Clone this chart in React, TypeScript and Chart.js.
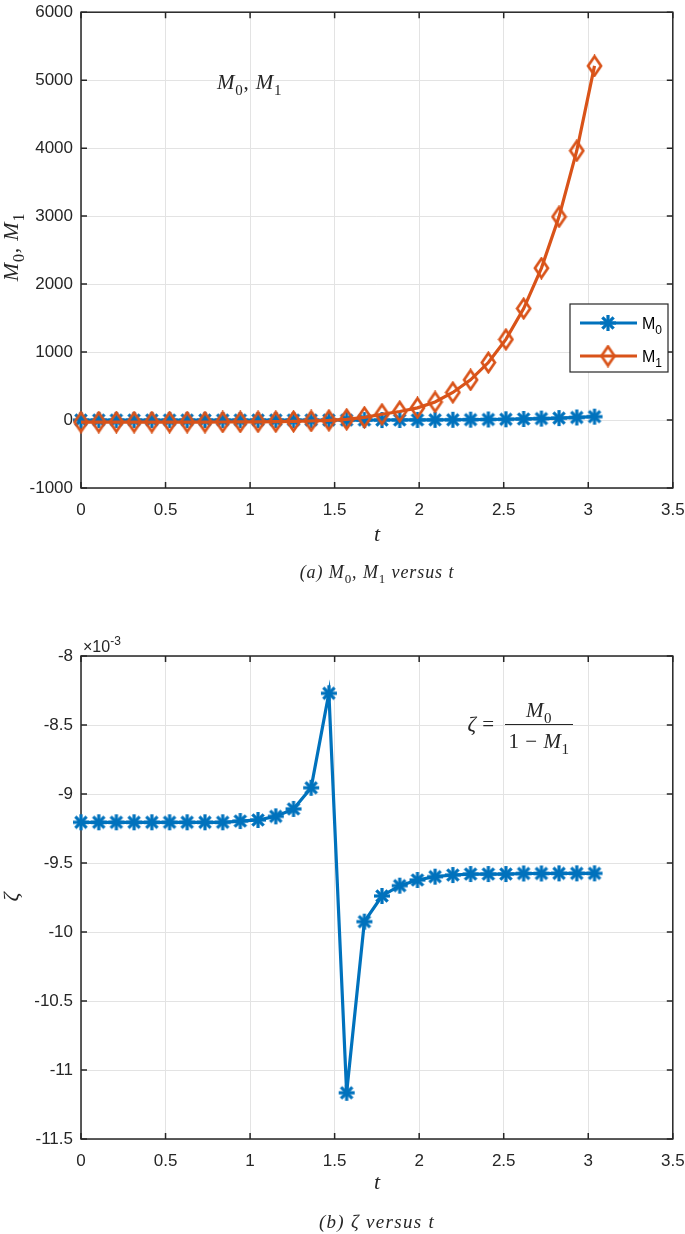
import { useEffect, useRef } from 'react';
import { Chart, registerables } from 'chart.js';
Chart.register(...registerables);

// ---------- data ----------
const T = [0, 0.105, 0.209, 0.314, 0.419, 0.524, 0.628, 0.733, 0.838, 0.942, 1.047, 1.152, 1.257, 1.361, 1.466, 1.571, 1.676, 1.78, 1.885, 1.99, 2.094, 2.199, 2.304, 2.409, 2.513, 2.618, 2.723, 2.827, 2.932, 3.037];
const M0 = [-0.3, -0.3, -0.3, -0.3, -0.3, -0.3, -0.3, -0.3, -0.3, -0.3, -0.3, -0.2, -0.1, 0.1, 0.2, 0.0, -0.2, 0.3, 1.2, 1.7, 2.5, 3.9, 5.7, 8.1, 11.4, 15.7, 21.4, 28.6, 38, 50];
const M1 = [-30, -30, -30, -30, -30, -30, -30, -30, -29, -28, -26, -24, -20, -14, -5, 10, 40, 85, 125, 179, 266, 406, 591, 846, 1186, 1640, 2235, 2990, 3962, 5210];
// zeta values in units of 1e-3
const ZETA = [-9.205, -9.205, -9.205, -9.205, -9.205, -9.205, -9.205, -9.205, -9.205, -9.196, -9.188, -9.162, -9.108, -8.955, -8.27, -11.165, -9.925, -9.739, -9.664, -9.623, -9.599, -9.587, -9.58, -9.58, -9.58, -9.576, -9.576, -9.575, -9.575, -9.575];
const X_TICKS = [0, 0.5, 1, 1.5, 2, 2.5, 3, 3.5];
const Y1_TICKS = [-1000, 0, 1000, 2000, 3000, 4000, 5000, 6000];
const Y2_TICKS = [-11.5, -11, -10.5, -10, -9.5, -9, -8.5, -8];

// ---------- styles ----------
const BLUE = '#0072BD';
const ORANGE = '#D95319';
const INK = '#262626';
const GRID = '#e3e3e3';
const SANS = '"Liberation Sans", Arial, Helvetica, sans-serif';
const SERIF = '"Liberation Serif", "Times New Roman", serif';

function makeAsterisk(): HTMLCanvasElement {
  const c = document.createElement('canvas');
  c.width = 18; c.height = 18;
  const g = c.getContext('2d')!;
  g.strokeStyle = BLUE; g.lineWidth = 3.2; g.lineCap = 'butt';
  const cx = 9, cy = 9, r = 8;
  for (let k = 0; k < 4; k++) {
    const a = (k * Math.PI) / 4;
    g.beginPath();
    g.moveTo(cx - r * Math.cos(a), cy - r * Math.sin(a));
    g.lineTo(cx + r * Math.cos(a), cy + r * Math.sin(a));
    g.stroke();
  }
  return c;
}
function makeDiamond(): HTMLCanvasElement {
  const c = document.createElement('canvas');
  c.width = 17; c.height = 23;
  const g = c.getContext('2d')!;
  g.strokeStyle = ORANGE; g.lineWidth = 2.7; g.lineJoin = 'miter';
  g.beginPath();
  g.moveTo(8.5, 2); g.lineTo(15, 11.5); g.lineTo(8.5, 21); g.lineTo(2, 11.5); g.closePath();
  g.stroke();
  return c;
}

type Kind = 'i' | 'r' | 'sub' | 's' | 'ssub' | 'sup';
type Seg = [string, Kind];
function fontFor(k: Kind, size: number) {
  switch (k) {
    case 'i': return `italic ${size}px ${SERIF}`;
    case 'r': return `${size}px ${SERIF}`;
    case 'sub': return `${Math.round(size * 0.72)}px ${SERIF}`;
    case 's': return `${size}px ${SANS}`;
    case 'ssub': return `${Math.round(size * 0.72)}px ${SANS}`;
    case 'sup': return `${Math.round(size * 0.72)}px ${SANS}`;
  }
}
function dyFor(k: Kind, size: number) {
  if (k === 'sub') return size * 0.28;
  if (k === 'ssub') return size * 0.3;
  if (k === 'sup') return -size * 0.45;
  return 0;
}
function drawRich(ctx: CanvasRenderingContext2D, segs: Seg[], x: number, y: number, size: number, align: 'left' | 'center' = 'center', color = INK, spacing = 0) {
  ctx.save();
  ctx.textBaseline = 'alphabetic';
  ctx.textAlign = 'left';
  ctx.fillStyle = color;
  (ctx as any).letterSpacing = `${spacing}px`;
  let w = 0;
  for (const [t, k] of segs) { ctx.font = fontFor(k, size); w += ctx.measureText(t).width; }
  let cx = align === 'center' ? x - w / 2 : x;
  for (const [t, k] of segs) {
    ctx.font = fontFor(k, size);
    ctx.fillText(t, cx, y + dyFor(k, size));
    cx += ctx.measureText(t).width;
  }
  ctx.restore();
}
function drawRichRotated(ctx: CanvasRenderingContext2D, segs: Seg[], x: number, y: number, size: number, spacing = 0) {
  ctx.save();
  ctx.translate(x, y);
  ctx.rotate(-Math.PI / 2);
  drawRich(ctx, segs, 0, 0, size, 'center', INK, spacing);
  ctx.restore();
}

function framePlugin(extra: (ctx: CanvasRenderingContext2D, chart: any) => void) {
  return {
    id: 'frame',
    beforeDatasetsDraw(chart: any) {
      const { ctx, chartArea: a, scales } = chart;
      ctx.save();
      ctx.strokeStyle = INK;
      ctx.lineWidth = 1.5;
      ctx.strokeRect(a.left, a.top, a.right - a.left, a.bottom - a.top);
      ctx.beginPath();
      for (const t of scales.x.ticks) {
        const px = scales.x.getPixelForValue(t.value);
        ctx.moveTo(px, a.bottom); ctx.lineTo(px, a.bottom - 6);
        ctx.moveTo(px, a.top); ctx.lineTo(px, a.top + 6);
      }
      for (const t of scales.y.ticks) {
        const py = scales.y.getPixelForValue(t.value);
        ctx.moveTo(a.left, py); ctx.lineTo(a.left + 6, py);
        ctx.moveTo(a.right, py); ctx.lineTo(a.right - 6, py);
      }
      ctx.stroke();
      ctx.restore();
    },
    afterDraw(chart: any) { extra(chart.ctx, chart); },
  };
}

function axisX(height: number) {
  return {
    type: 'linear' as const,
    min: 0, max: 3.5,
    afterBuildTicks: (s: any) => { s.ticks = X_TICKS.map((v) => ({ value: v })); },
    grid: { color: GRID, lineWidth: 1, drawTicks: false },
    border: { display: false },
    ticks: { padding: 12, color: INK, font: { family: SANS, size: 17 }, maxRotation: 0, autoSkip: false, callback: (v: any) => String(v) },
    afterFit: (s: any) => { s.height = height; s.paddingLeft = 0; s.paddingRight = 0; s.paddingTop = 0; s.paddingBottom = 0; },
  };
}
function axisY(min: number, max: number, tickVals: number[]) {
  return {
    type: 'linear' as const,
    min, max,
    afterBuildTicks: (s: any) => { s.ticks = tickVals.map((v) => ({ value: v })); },
    grid: { color: GRID, lineWidth: 1, drawTicks: false },
    border: { display: false },
    ticks: { padding: 8, color: INK, font: { family: SANS, size: 17 }, autoSkip: false, callback: (v: any) => String(v) },
    afterFit: (s: any) => { s.width = 81; s.paddingLeft = 0; s.paddingRight = 0; s.paddingTop = 0; s.paddingBottom = 0; },
  };
}

const M_SEGS: Seg[] = [['M', 'i'], ['0', 'sub'], [', ', 'r'], ['M', 'i'], ['1', 'sub']];

export default function App() {
  const ref1 = useRef<HTMLCanvasElement>(null);
  const ref2 = useRef<HTMLCanvasElement>(null);
  useEffect(() => {
    document.body.style.margin = '0';
    const ast = makeAsterisk();
    const dia = makeDiamond();

    const c1 = new Chart(ref1.current!, {
      type: 'line',
      data: {
        datasets: [
          { label: 'M0', data: T.map((x, i) => ({ x, y: M0[i] })), borderColor: BLUE, borderWidth: 3.2, pointStyle: ast as any, pointRadius: 9, tension: 0, clip: false as any, order: 1 },
          { label: 'M1', data: T.map((x, i) => ({ x, y: M1[i] })), borderColor: ORANGE, borderWidth: 3.2, pointStyle: dia as any, pointRadius: 9, tension: 0, clip: false as any, order: 0 },
        ],
      },
      options: {
        animation: false, responsive: false, events: [],
        layout: { padding: { left: 0, right: 12, top: 6, bottom: 82 } },
        plugins: { legend: { display: false }, tooltip: { enabled: false } },
        scales: { x: axisX(30), y: axisY(-1000, 6000, Y1_TICKS) },
      },
      plugins: [framePlugin((ctx) => {
        // annotation
        drawRich(ctx, M_SEGS, 217, 89, 21, 'left', INK, 0.8);
        // y title
        drawRichRotated(ctx, M_SEGS, 18, 247, 22, 0.8);
        // x title
        drawRich(ctx, [['t', 'i']], 377, 541, 22);
        // caption
        drawRich(ctx, [['(a) ', 'i'], ['M', 'i'], ['0', 'sub'], [', ', 'r'], ['M', 'i'], ['1', 'sub'], [' versus ', 'i'], ['t', 'i']], 377, 578, 18, 'center', INK, 0.9);
        // legend
        ctx.save();
        ctx.fillStyle = '#fff';
        ctx.fillRect(570, 304, 98, 68);
        ctx.strokeStyle = INK; ctx.lineWidth = 1.2;
        ctx.strokeRect(570, 304, 98, 68);
        const rows: [string, string, HTMLCanvasElement, number][] = [[BLUE, '0', ast, 323], [ORANGE, '1', dia, 356]];
        for (const [col, sub, img, ry] of rows) {
          ctx.strokeStyle = col; ctx.lineWidth = 3.2;
          ctx.beginPath(); ctx.moveTo(580, ry); ctx.lineTo(637, ry); ctx.stroke();
          ctx.drawImage(img, 608 - img.width / 2, ry - img.height / 2);
          drawRich(ctx, [['M', 's'], [sub, 'ssub']], 642, ry + 6, 16, 'left', '#000');
        }
        ctx.restore();
      })],
    } as any);

    const c2 = new Chart(ref2.current!, {
      type: 'line',
      data: {
        datasets: [
          { label: 'zeta', data: T.map((x, i) => ({ x, y: ZETA[i] })), borderColor: BLUE, borderWidth: 3.2, pointStyle: ast as any, pointRadius: 9, tension: 0, clip: false as any },
        ],
      },
      options: {
        animation: false, responsive: false, events: [],
        layout: { padding: { left: 0, right: 12, top: 56, bottom: 65 } },
        plugins: { legend: { display: false }, tooltip: { enabled: false } },
        scales: { x: axisX(30), y: axisY(-11.5, -8, Y2_TICKS) },
      },
      plugins: [framePlugin((ctx) => {
        // exponent
        drawRich(ctx, [['×', 's'], ['10', 's'], ['-3', 'sup']], 83, 52, 16, 'left');
        // formula
        drawRich(ctx, [['ζ', 'i'], [' =', 'r']], 481, 131, 21, 'center', INK, 0.5);
        drawRich(ctx, [['M', 'i'], ['0', 'sub']], 539, 117, 21, 'center', INK, 0.5);
        drawRich(ctx, [['1 − ', 'r'], ['M', 'i'], ['1', 'sub']], 539, 148, 21, 'center', INK, 0.5);
        ctx.save();
        ctx.strokeStyle = INK; ctx.lineWidth = 1;
        ctx.beginPath(); ctx.moveTo(505, 124.5); ctx.lineTo(573, 124.5); ctx.stroke();
        ctx.restore();
        // y title
        drawRichRotated(ctx, [['ζ', 'i']], 18, 297, 22);
        // x title
        drawRich(ctx, [['t', 'i']], 377, 589, 22);
        // caption
        drawRich(ctx, [['(b) ', 'i'], ['ζ', 'i'], [' versus ', 'i'], ['t', 'i']], 377, 628, 19, 'center', INK, 1.3);
      })],
    } as any);

    return () => { c1.destroy(); c2.destroy(); };
  }, []);

  return (
    <div style={{ position: 'relative', width: 685, height: 1234, background: '#fff' }}>
      <canvas ref={ref1} width={685} height={600} style={{ position: 'absolute', left: 0, top: 0 }} />
      <canvas ref={ref2} width={685} height={634} style={{ position: 'absolute', left: 0, top: 600 }} />
    </div>
  );
}
